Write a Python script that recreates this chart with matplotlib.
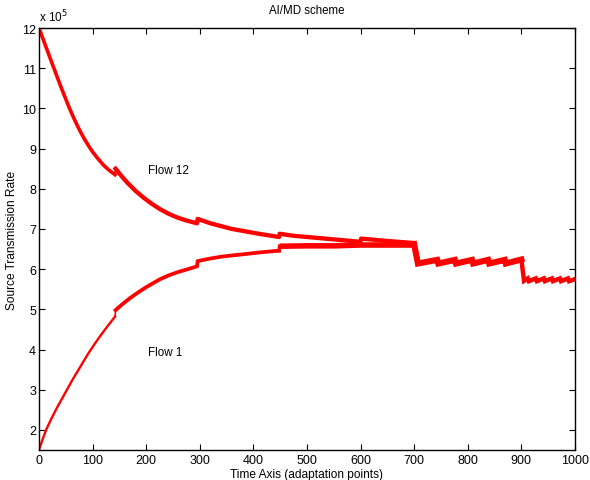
import matplotlib
matplotlib.use("Agg")
import matplotlib.pyplot as plt

plt.rcParams['font.family'] = ['Liberation Sans', 'DejaVu Sans']

# values in units of 1e5
flow12_x = [0, 7, 14.5, 22, 29, 36, 43.5, 51, 58, 65, 72, 79, 86, 93, 100, 110, 121, 131, 142,
            143, 155, 165, 180, 195, 210, 225, 240, 257, 275, 295,
            296, 320, 340, 360, 381, 410, 448,
            449, 475, 500, 525, 550, 575, 600,
            601, 650, 700]
flow12_y = [12.0, 11.75, 11.48, 11.21, 10.96, 10.71, 10.45, 10.2, 9.97, 9.76, 9.56, 9.38,
            9.21, 9.06, 8.92, 8.75, 8.58, 8.46, 8.35,
            8.5, 8.3, 8.15, 7.95, 7.78, 7.63, 7.5, 7.39, 7.29, 7.21, 7.14,
            7.25, 7.14, 7.07, 7.0, 6.95, 6.88, 6.8,
            6.88, 6.83, 6.8, 6.77, 6.74, 6.71, 6.68,
            6.76, 6.7, 6.65]

flow1_x = [0, 7, 14, 24, 34, 44, 54, 64, 74, 83, 92, 103, 115, 128, 142,
           143, 155, 170, 185, 200, 213, 226, 243, 260, 278, 295,
           296, 318, 340, 360, 381, 415, 448,
           449, 500, 550, 600, 650, 700]
flow1_y = [1.5, 1.77, 2.02, 2.3, 2.56, 2.8, 3.04, 3.28, 3.5, 3.7, 3.9, 4.12, 4.35, 4.58, 4.82,
           4.98, 5.12, 5.28, 5.42, 5.55, 5.65, 5.75, 5.85, 5.93, 6.0, 6.07,
           6.2, 6.26, 6.31, 6.34, 6.37, 6.42, 6.46,
           6.57, 6.58, 6.58, 6.6, 6.6, 6.6]

# both flows share the same sawtooth after t=700
tail_x = [700, 707, 743, 745, 776, 778, 808, 810, 838, 840, 869, 871, 900,
          905, 912, 914, 927, 929, 942, 944, 957, 959, 972, 974, 987, 989, 1000]
tail_y = [6.62, 6.14, 6.23, 6.14, 6.23, 6.14, 6.23, 6.14, 6.23, 6.14, 6.23, 6.14, 6.24,
          5.71, 5.77, 5.7, 5.77, 5.7, 5.77, 5.7, 5.77, 5.7, 5.77, 5.7, 5.77, 5.7, 5.75]

red = '#ff0000'

fig = plt.figure(figsize=(5.9, 4.81), dpi=100)
ax = fig.add_axes([0.066, 0.0624, 0.9085, 0.8773])

# flow 12
ax.plot(flow12_x[:19], flow12_y[:19], color=red, lw=2.6)
ax.plot(flow12_x[19:], flow12_y[19:], color=red, lw=3.1)
ax.plot(flow12_x[18:20], flow12_y[18:20], color=red, lw=1.2)

# flow 1
ax.plot(flow1_x[:15], flow1_y[:15], color=red, lw=1.7)
ax.plot(flow1_x[15:33], flow1_y[15:33], color=red, lw=2.7)
ax.plot(flow1_x[33:], flow1_y[33:], color=red, lw=4.0, solid_capstyle='butt')
ax.plot(flow1_x[14:16], flow1_y[14:16], color=red, lw=1.2)
ax.plot(flow1_x[32:34], flow1_y[32:34], color=red, lw=2.5)

# converged part
ax.plot(tail_x[:13], tail_y[:13], color=red, lw=4.4, solid_joinstyle='miter')
ax.plot(tail_x[12:], tail_y[12:], color=red, lw=3.2, solid_joinstyle='miter')

ax.text(203, 8.47, 'Flow 12', fontsize=8.4, va='center')
ax.text(203, 3.95, 'Flow 1', fontsize=8.4, va='center')

ax.set_xlim(0, 1000)
ax.set_ylim(1.5, 12)
ax.set_xticks(range(0, 1001, 100))
ax.set_yticks(range(2, 13))
ax.tick_params(direction='in', top=True, right=True, length=4, width=0.8,
               labelsize=9, pad=3)
ax.tick_params(axis='y', pad=2)
for s in ax.spines.values():
    s.set_linewidth(1.0)

ax.text(0.0, 1.008, r'x 10$^5$', transform=ax.transAxes, fontsize=8.5, va='bottom')
ax.set_title('AI/MD scheme', fontsize=8.3, pad=11)
ax.set_xlabel('Time Axis (adaptation points)', fontsize=8.6, labelpad=1)
ax.set_ylabel('Source Transmission Rate', fontsize=8.6, labelpad=3)

fig.savefig('out.png', dpi=100)
